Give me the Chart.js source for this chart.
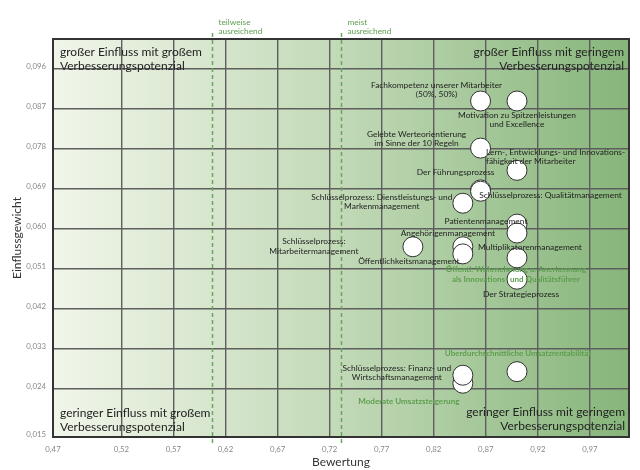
<!DOCTYPE html>
<html lang="de">
<head>
<meta charset="utf-8">
<title>Portfolio Bewertung / Einflussgewicht</title>
<script src="https://cdn.jsdelivr.net/npm/chart.js@4"></script>
<style>
  html, body { margin: 0; padding: 0; background: #fff; }
  #wrap { width: 640px; height: 470px; }
</style>
</head>
<body>
<div id="wrap"><canvas id="chart" width="640" height="470"></canvas></div>
<script>
// Werte (Bewertung = x, Einflussgewicht = y)
const names = [
    ['Fachkompetenz unserer Mitarbeiter', '(50%, 50%)'],
    ['Motivation zu Spitzenleistungen', 'und Excellence'],
    ['Gelebte Werteorientierung', 'im Sinne der 10 Regeln'],
    ['Lern-, Entwicklungs- und Innovations-', 'fähigkeit der Mitarbeiter'],
    ['Schlüsselprozess: Qualitätmanagement'],
    ['Der Führungsprozess'],
    ['Schlüsselprozess: Dienstleistungs- und', 'Markenmanagement'],
    ['Patientenmanagement'],
    ['Multiplikatorenmanagement'],
    ['Schlüsselprozess:', 'Mitarbeitermanagement'],
    ['Angehörigenmanagement'],
    ['Öffentlichkeitsmanagement'],
    ['Öffentl. Wahrnehmung u. Anerkennung', 'als Innovations- und Qualitätsführer'],
    ['Der Strategieprozess'],
    ['Überdurchschnittliche Umsatzrentabilität'],
    ['Moderate Umsatzsteigerung'],
    ['Schlüsselprozess: Finanz- und', 'Wirtschaftsmanagement']
];
const bewertung = [0.865, 0.900, 0.865, 0.900, 0.865, 0.865, 0.848, 0.900, 0.900, 0.800, 0.848, 0.848, 0.900, 0.900, 0.900, 0.848, 0.848];
const einfluss  = [0.0888, 0.0888, 0.0782, 0.0732, 0.0688, 0.0685, 0.0658, 0.0611, 0.0591, 0.0560, 0.0560, 0.0544, 0.0535, 0.0487, 0.0279, 0.0253, 0.0271];
// Ergebnis-Ziele (grün beschriftet)
const isResult = [false, false, false, false, false, false, false, false, false, false, false, false, true, false, true, true, false];

const xMin = 0.4543, xMax = 1.0076;
const yMin = 0.0132, yMax = 0.10275;
const xTicks = [0.4543, 0.52, 0.57, 0.62, 0.67, 0.72, 0.77, 0.82, 0.87, 0.92, 0.97];
const xTickLabels = ['0,47', '0,52', '0,57', '0,62', '0,67', '0,72', '0,77', '0,82', '0,87', '0,92', '0,97'];
const yTicks = [0.0132, 0.024, 0.033, 0.042, 0.051, 0.060, 0.069, 0.078, 0.087, 0.096];
const yTickLabels = ['0,015', '0,024', '0,033', '0,042', '0,051', '0,060', '0,069', '0,078', '0,087', '0,096'];

// Schwellen
const thresholds = [0.6075, 0.731];
const thresholdNames = [['teilweise', 'ausreichend'], ['meist', 'ausreichend']];

const quadrants = [
    ['großer Einfluss mit großem', 'Verbesserungspotenzial'],
    ['großer Einfluss mit geringem', 'Verbesserungspotenzial'],
    ['geringer Einfluss mit großem', 'Verbesserungspotenzial'],
    ['geringer Einfluss mit geringem', 'Verbesserungspotenzial']
];

// label placement relative to the point (pixels)
const labelPlace = [
    { dx: -44, dy: -16, align: 'center' },
    { dx: 0, dy: 14, align: 'center' },
    { dx: -64, dy: -14, align: 'center' },
    { dx: -31, dy: -18.5, align: 'left' },
    { dx: 70, dy: 5, align: 'center' },
    { dx: -25, dy: -19, align: 'center' },
    { dx: -81, dy: -6, align: 'center' },
    { dx: -31, dy: -3, align: 'center' },
    { dx: 13, dy: 14, align: 'center' },
    { dx: -99, dy: -5, align: 'center' },
    { dx: -15, dy: -13, align: 'center' },
    { dx: -54, dy: 7, align: 'center' },
    { dx: -1, dy: 12, align: 'center' },
    { dx: 4, dy: 15, align: 'center' },
    { dx: 1, dy: -18.5, align: 'center' },
    { dx: -54, dy: 18, align: 'center' },
    { dx: -66, dy: -7, align: 'center' }
];

const FONT = 'Lato, "Open Sans", sans-serif';
const green = '#5e9e4f';

const points = bewertung.map((x, i) => ({ x: x, y: einfluss[i] }));

// background gradient in plot area
const backgroundPlugin = {
    id: 'plotBackground',
    beforeDraw(chart) {
        const { ctx, chartArea: a } = chart;
        const g = ctx.createLinearGradient(a.left, 0, a.right, 0);
        g.addColorStop(0, '#f1f6ea');
        g.addColorStop(0.5, '#c2d9b7');
        g.addColorStop(1, '#86b57a');
        ctx.save();
        ctx.fillStyle = g;
        ctx.fillRect(a.left, a.top, a.right - a.left, a.bottom - a.top);
        ctx.restore();
    }
};

const overlayPlugin = {
    id: 'overlay',
    afterDraw(chart) {
        const { ctx, chartArea: a, scales } = chart;
        ctx.save();

        // border
        ctx.strokeStyle = '#333';
        ctx.lineWidth = 2;
        ctx.strokeRect(a.left, a.top, a.right - a.left, a.bottom - a.top);

        // threshold lines
        ctx.setLineDash([4, 3]);
        ctx.strokeStyle = '#68a85a';
        ctx.lineWidth = 1.5;
        thresholds.forEach((t, i) => {
            const px = Math.round(scales.x.getPixelForValue(t)) + 0.5;
            ctx.beginPath();
            ctx.moveTo(px, a.top - 6);
            ctx.lineTo(px, a.bottom + 7);
            ctx.stroke();
            ctx.fillStyle = green;
            ctx.font = '8.3px ' + FONT;
            ctx.textAlign = 'left';
            ctx.textBaseline = 'middle';
            thresholdNames[i].forEach((line, j) => ctx.fillText(line, px + 6, a.top - 17 + j * 9));
        });
        ctx.setLineDash([]);

        // quadrant texts
        ctx.fillStyle = '#222';
        ctx.font = '12px ' + FONT;
        ctx.textBaseline = 'middle';
        const qPos = [
            { x: a.left + 7, y: a.top + 13, align: 'left' },
            { x: a.right - 5, y: a.top + 13, align: 'right' },
            { x: a.left + 7, y: a.bottom - 24, align: 'left' },
            { x: a.right - 4, y: a.bottom - 25, align: 'right' }
        ];
        quadrants.forEach((q, i) => {
            ctx.textAlign = qPos[i].align;
            q.forEach((line, j) => ctx.fillText(line, qPos[i].x, qPos[i].y + j * 14.5));
        });

        // point labels
        points.forEach((p, i) => {
            const px = scales.x.getPixelForValue(p.x);
            const py = scales.y.getPixelForValue(p.y);
            const lp = labelPlace[i];
            ctx.textAlign = lp.align;
            if (isResult[i]) {
                ctx.fillStyle = green;
                ctx.font = 'bold 8px ' + FONT;
            } else {
                ctx.fillStyle = '#1e1e1e';
                ctx.font = '8.4px ' + FONT;
            }
            names[i].forEach((line, j) => ctx.fillText(line, px + lp.dx, py + lp.dy + j * 9.2));
        });

        ctx.restore();
    }
};

new Chart(document.getElementById('chart'), {
    type: 'scatter',
    data: {
        datasets: [{
            data: points,
            pointRadius: 10,
            pointHoverRadius: 10,
            pointBackgroundColor: '#ffffff',
            pointBorderColor: '#333333',
            pointBorderWidth: 1
        }]
    },
    options: {
        responsive: false,
        animation: false,
        layout: { padding: { top: 39, right: 6, left: 0, bottom: 0 } },
        plugins: {
            legend: { display: false },
            tooltip: { enabled: false }
        },
        scales: {
            x: {
                type: 'linear',
                min: xMin,
                max: xMax,
                afterBuildTicks: scale => { scale.ticks = xTicks.map(v => ({ value: v })); },
                afterFit: scale => { scale.height = 33; },
                ticks: {
                    autoSkip: false,
                    maxRotation: 0,
                    padding: 8,
                    color: '#888',
                    font: { family: FONT, size: 7.8 },
                    callback: (v, i) => xTickLabels[i]
                },
                grid: { color: '#5e5e5e', lineWidth: 1.4, drawTicks: false },
                border: { display: false },
                title: {
                    display: true,
                    text: 'Bewertung',
                    color: '#333',
                    font: { family: FONT, size: 12 },
                    padding: { top: 0, bottom: 1 }
                }
            },
            y: {
                type: 'linear',
                min: yMin,
                max: yMax,
                afterBuildTicks: scale => { scale.ticks = yTicks.map(v => ({ value: v })); },
                afterFit: scale => { scale.width = 53; },
                ticks: {
                    autoSkip: false,
                    padding: 7,
                    labelOffset: -3,
                    color: '#888',
                    font: { family: FONT, size: 7.8 },
                    callback: (v, i) => yTickLabels[i]
                },
                grid: { color: '#5e5e5e', lineWidth: 1.4, drawTicks: false },
                border: { display: false },
                title: {
                    display: true,
                    text: 'Einflussgewicht',
                    color: '#333',
                    font: { family: FONT, size: 12 },
                    padding: { top: 10, bottom: 0 }
                }
            }
        }
    },
    plugins: [backgroundPlugin, overlayPlugin]
});
</script>
</body>
</html>
